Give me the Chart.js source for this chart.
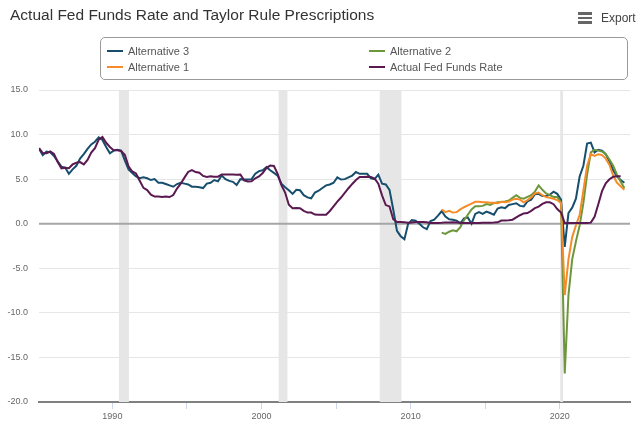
<!DOCTYPE html>
<html>
<head>
<meta charset="utf-8">
<script src="https://cdn.jsdelivr.net/npm/chart.js@4.4.1/dist/chart.umd.min.js"></script>
<style>
  body { margin: 0; background: #fff; font-family: "Liberation Sans", Arial, sans-serif; }
  #wrap { position: relative; width: 640px; height: 428px; overflow: hidden; }
  #chart { position: absolute; left: 0; top: 0; }
  #title { position: absolute; left: 10px; top: 5px; line-height: 20px; font-size: 15.5px; color: #333; white-space: nowrap; }
  #export { position: absolute; left: 578px; top: 10px; height: 16px; }
  #export .bar { position: absolute; left: 0; width: 14px; height: 2.5px; background: #666; }
  #export span { position: absolute; left: 23px; top: 1px; font-size: 12px; line-height: 14px; color: #444; }
  #legend { position: absolute; left: 100px; top: 37px; width: 526px; height: 41px; border: 1px solid #999; border-radius: 5px; }
  .item { position: absolute; font-size: 11px; line-height: 14px; color: #555; white-space: nowrap; }
  .item i { position: absolute; left: -21px; top: 6px; width: 16px; height: 2px; }
</style>
</head>
<body>
<div id="wrap">
  <canvas id="chart" width="640" height="428"></canvas>
  <div id="title">Actual Fed Funds Rate and Taylor Rule Prescriptions</div>
  <div id="export">
    <div class="bar" style="top:2px"></div>
    <div class="bar" style="top:6.5px"></div>
    <div class="bar" style="top:11px"></div>
    <span>Export</span>
  </div>
  <div id="legend"></div>
</div>
<script>
// Quarterly data, first quarter of each series
const firstYear = 1985;
const altFirstYear = 2012;

// Alternative 3 (1985Q1 - 2024Q2)
const alternative3 = [
  8.4, 7.7, 8.1, 8.0,   7.6, 7.0, 6.4, 6.3,   5.6, 6.1, 6.5, 7.3,   7.8, 8.4, 8.9, 9.2,
  9.7, 9.4, 8.6, 7.9,   8.2, 8.3, 8.2, 7.1,   6.1, 5.7, 5.3, 5.1,   5.2, 5.1, 4.9, 5.0,
  4.6, 4.6, 4.45, 4.3,  4.15, 4.45, 4.6, 4.5, 4.4, 4.15, 4.15, 4.1, 4.0, 4.5, 4.6, 4.9,
  4.75, 5.4, 5.0, 4.8,  4.7, 4.35, 5.0, 4.95, 4.95, 5.0, 5.6, 5.9, 6.0, 6.35, 6.0, 5.7,
  5.4, 4.5, 4.1, 3.75,  3.35, 3.8, 3.75, 3.2, 2.95, 2.85, 3.5, 3.7, 4.0, 4.3, 4.4, 4.6,
  5.2, 4.95, 5.0, 5.2,  5.4, 5.8, 5.6, 5.6,   5.6, 5.1, 5.0, 5.5,   4.5, 4.4, 3.8, 1.6,
  -0.8, -1.4, -1.75, 0.0, 0.4, 0.35, 0.0, -0.4, -0.6, 0.3, 0.45, 0.9, 1.4, 0.8, 0.5, 0.45,
  0.35, 0.05, 0.6, 0.7, 0.0, 1.1, 1.3, 1.1,   1.35, 1.2, 1.0, 1.7,  1.85, 1.75, 2.1, 2.2,
  2.3, 2.0, 1.95, 2.5,  2.7, 3.3, 3.35, 3.1,  3.1, 3.25, 3.6, 3.35, 2.7, -2.6, 1.2, 1.8,
  2.8, 5.3, 6.5, 9.0,   9.1, 8.0, 8.3, 8.2,   7.8, 7.0, 6.0, 5.3,   4.9, 4.6
];

// Alternative 2 (2012Q1 - 2024Q2)
const alternative2 = [
  -1.0, -1.15, -0.9, -0.75, -0.85, -0.4, 0.4, 1.0, 1.6, 1.95, 1.95, 2.0, 2.2, 2.1, 2.3, 2.4,
  2.45, 2.5, 2.6, 2.9,  3.2, 2.9, 2.8, 3.0,   3.2, 3.6, 4.3, 3.8,   3.4, 3.2, 3.0, 3.0,
  2.4, -16.8, -8.0, -4.0, -2.0, -0.2, 2.3, 5.5, 8.0, 8.3, 8.2, 8.1, 7.8, 7.2, 6.5, 5.5,
  4.7, 4.0
];

// Alternative 1 (2012Q1 - 2024Q2)
const alternative1 = [
  1.6, 1.3, 1.45, 1.25,  1.3, 1.6, 1.85, 2.05,  2.25, 2.45, 2.45, 2.4,  2.4, 2.35, 2.35, 2.3,
  2.45, 2.4, 2.5, 2.7,   2.8, 2.7, 2.4, 2.65,   2.95, 3.4, 3.5, 3.2,   3.0, 2.9, 2.8, 2.65,
  2.3, -8.0, -4.0, -1.5, -0.2, 1.0, 3.7, 6.5,   7.8, 7.6, 7.8, 7.7,    7.3, 6.6, 5.4, 4.6,
  4.2, 3.8
];

// Actual Fed Funds Rate (1985Q1 - 2024Q1)
const fedFunds = [
  8.48, 7.92, 7.90, 8.10, 7.83, 6.92, 6.21, 6.27, 6.22, 6.65, 6.84, 6.92, 6.66, 7.16, 7.98, 8.47,
  9.44, 9.73, 9.08, 8.61, 8.25, 8.24, 8.16, 7.74, 6.43, 5.86, 5.64, 4.82, 4.02, 3.77, 3.26, 3.04,
  3.04, 3.00, 3.06, 2.99, 3.21, 3.94, 4.49, 5.17, 5.81, 6.02, 5.80, 5.72, 5.36, 5.24, 5.31, 5.28,
  5.28, 5.52, 5.53, 5.51, 5.52, 5.50, 5.53, 4.86, 4.73, 4.75, 5.09, 5.31, 5.68, 6.27, 6.52, 6.47,
  5.59, 4.33, 3.50, 2.13, 1.73, 1.75, 1.74, 1.44, 1.25, 1.25, 1.02, 1.00, 1.00, 1.01, 1.43, 1.95,
  2.47, 2.94, 3.46, 3.98, 4.46, 4.91, 5.25, 5.25, 5.26, 5.25, 5.07, 4.50, 3.18, 2.09, 1.94, 0.51,
  0.18, 0.18, 0.16, 0.12, 0.13, 0.19, 0.19, 0.19, 0.16, 0.09, 0.08, 0.07, 0.10, 0.15, 0.14, 0.16,
  0.14, 0.12, 0.08, 0.09, 0.07, 0.09, 0.09, 0.10, 0.11, 0.12, 0.13, 0.16, 0.36, 0.37, 0.39, 0.45,
  0.70, 0.95, 1.15, 1.20, 1.45, 1.74, 1.92, 2.22, 2.40, 2.40, 2.19, 1.64, 1.26, 0.06, 0.09, 0.09,
  0.08, 0.07, 0.09, 0.08, 0.12, 0.77, 2.19, 3.65, 4.52, 4.99, 5.26, 5.33, 5.33
];

// Recession shading (start / end, decimal years)
const recessionStarts = [1990.44, 2001.15, 2007.93, 2020.03];
const recessionEnds   = [1991.11, 2001.74, 2009.38, 2020.22];

const yTicks = [-20, -15, -10, -5, 0, 5, 10, 15];

// turn a quarterly array into {x, y} points (x = middle month of the quarter)
function toPoints(values, startYear) {
  return values.map((v, i) => ({ x: startYear + i / 4 + 1 / 12, y: v }));
}

// grey recession bands + zero line, drawn under the series
const recessionBands = {
  id: 'recessionBands',
  beforeDatasetsDraw(chart) {
    const { ctx, chartArea, scales } = chart;
    ctx.save();
    ctx.fillStyle = '#e6e6e6';
    recessionStarts.forEach((start, i) => {
      const x0 = scales.x.getPixelForValue(start);
      const x1 = scales.x.getPixelForValue(recessionEnds[i]);
      ctx.fillRect(x0, chartArea.top, x1 - x0, chartArea.bottom - chartArea.top);
    });
    const y0 = scales.y.getPixelForValue(0);
    ctx.strokeStyle = '#a6a6a6';
    ctx.lineWidth = 2;
    ctx.beginPath();
    ctx.moveTo(chartArea.left, y0);
    ctx.lineTo(chartArea.right, y0);
    ctx.stroke();
    ctx.restore();
  }
};

const series = [
  { label: 'Alternative 3', data: toPoints(alternative3, firstYear), borderColor: '#164e6e', order: 3 },
  { label: 'Alternative 2', data: toPoints(alternative2, altFirstYear), borderColor: '#6e963c', order: 2 },
  { label: 'Alternative 1', data: toPoints(alternative1, altFirstYear), borderColor: '#f58c28', order: 1 },
  { label: 'Actual Fed Funds Rate', data: toPoints(fedFunds, firstYear), borderColor: '#5a1950', order: 0 }
];

const chart = new Chart(document.getElementById('chart'), {
  type: 'line',
  data: {
    datasets: series.map(s => ({
      ...s,
      borderWidth: 2,
      pointRadius: 0,
      tension: 0,
      fill: false
    }))
  },
  options: {
    responsive: false,
    animation: false,
    layout: { padding: { top: 90, right: 10, left: 0, bottom: 0 } },
    plugins: {
      legend: { display: false },
      tooltip: { enabled: false }
    },
    scales: {
      x: {
        type: 'linear',
        min: 1985.08,
        max: 2024.71,
        afterBuildTicks: s => { s.ticks = s.ticks.filter(t => t.value > 1986); },
        afterFit: s => { s.height = 26; },
        ticks: {
          stepSize: 5,
          includeBounds: false,
          autoSkip: false,
          maxRotation: 0,
          padding: 2,
          color: '#666',
          font: { family: '"Liberation Sans", Arial, sans-serif', size: 9 },
          callback: v => (v % 10 === 0 ? String(v) : '')
        },
        grid: { drawOnChartArea: false, drawTicks: true, tickLength: 7, color: '#ccd6eb' },
        border: { color: '#808080', width: 2 }
      },
      y: {
        min: -20,
        max: 15,
        afterBuildTicks: s => { s.ticks = yTicks.map(v => ({ value: v })); },
        afterFit: s => { s.width = 39; },
        ticks: {
          padding: 11,
          color: '#666',
          font: { family: '"Liberation Sans", Arial, sans-serif', size: 9 },
          callback: v => v.toFixed(1)
        },
        grid: { color: '#e6e6e6', drawTicks: false },
        border: { display: false }
      }
    }
  },
  plugins: [recessionBands]
});

// Legend: two columns, built from the chart's datasets
const legendBox = document.getElementById('legend');
const colLeft = [27, 289];
const rowTop = [6, 22];
chart.data.datasets.forEach((ds, i) => {
  const item = document.createElement('div');
  item.className = 'item';
  item.style.left = colLeft[i % 2] + 'px';
  item.style.top = rowTop[Math.floor(i / 2)] + 'px';
  const swatch = document.createElement('i');
  swatch.style.background = ds.borderColor;
  item.appendChild(swatch);
  item.appendChild(document.createTextNode(ds.label));
  legendBox.appendChild(item);
});
</script>
</body>
</html>
